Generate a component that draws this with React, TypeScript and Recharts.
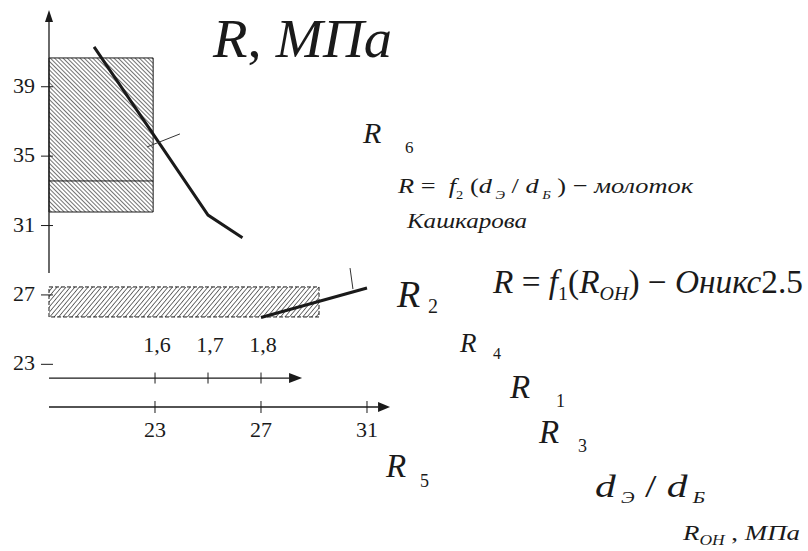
import React from 'react'
import {
  ComposedChart,
  XAxis,
  YAxis,
  Line,
  ReferenceArea,
  ReferenceLine,
  ReferenceDot,
} from 'recharts'

// both horizontal scales share the plot width: R_OH (MPa) below, dЭ/dБ above
const ronDomain: [number, number] = [17.151, 47.642]
const ratioDomain: [number, number] = [1.3075, 2.8321]
const rDomain: [number, number] = [12.24, 44]

const rTicks = [39, 35, 31, 27, 23]
const ratioTicks = [1.6, 1.7, 1.8]
const ronTicks = [23, 27, 31]

// R = f2(dЭ/dБ), Kashkarov hammer
const hammerCurve = [
  { ratio: 1.485, r: 41.3 },
  { ratio: 1.7, r: 31.6 },
  { ratio: 1.765, r: 30.3 },
]
// R = f1(R_OH), Onyx 2.5
const onyxCurve = [
  { ron: 27, r: 25.7 },
  { ron: 31, r: 27.4 },
]
const hammerLeader = [
  { ron: 22.7, r: 35.53 },
  { ron: 23.94, r: 36.28 },
]
const onyxLeader = [
  { ron: 30.36, r: 28.55 },
  { ron: 30.47, r: 27.34 },
]

// scatter zones
const hammerZoneRon = [19, 22.93]
const hammerZoneR = [31.78, 40.66]
const hammerZoneSplit = 33.57
const onyxZoneRon = [19, 29.19]
const onyxZoneR = [25.73, 27.46]

// axis extents
const rAxisSpan = [28.27, 43.42]
const ratioAxisSpan = [1.4, 1.8775]
const ratioAxisLevel = 22.21
const ronAxisSpan = [19, 31.87]
const ronAxisLevel = 20.54

const FONT = '"Liberation Serif", "Times New Roman", serif'
const INK = '#1a1a1a'
const serif: React.CSSProperties = { fontFamily: FONT }

type Seg = { t: string; i?: boolean; sub?: boolean }

function Rich({
  x,
  y,
  size,
  segs,
  len,
  subScale = 0.55,
  drop = 0.28,
}: {
  x: number
  y: number
  size: number
  segs: Seg[]
  len?: number
  subScale?: number
  drop?: number
}) {
  let shift = 0
  return (
    <text
      x={x}
      y={y}
      fontSize={size}
      fill={INK}
      textLength={len}
      lengthAdjust={len ? 'spacingAndGlyphs' : undefined}
      style={{ ...serif, whiteSpace: 'pre' }}
    >
      {segs.map((s, k) => {
        const target = s.sub ? size * drop : 0
        const dy = target - shift
        shift = target
        return (
          <tspan
            key={k}
            dy={dy || undefined}
            fontSize={s.sub ? size * subScale : size}
            fontStyle={s.i ? 'italic' : 'normal'}
          >
            {s.t}
          </tspan>
        )
      })}
    </text>
  )
}

const note = (
  key: string,
  x: number,
  y: number,
  draw: (cx: number, cy: number) => React.ReactNode,
  axis = 'ron'
) => (
  <ReferenceDot
    key={key}
    xAxisId={axis}
    x={x}
    y={y}
    r={0}
    ifOverflow="visible"
    shape={(p: any) => <g>{draw(p.cx, p.cy)}</g>}
  />
)

const arrow = (len: number, half: number) => (p: any) => {
  const { x1, y1, x2, y2 } = p
  const a = Math.atan2(y2 - y1, x2 - x1)
  const bx = x2 - len * Math.cos(a)
  const by = y2 - len * Math.sin(a)
  const nx = -Math.sin(a) * half
  const ny = Math.cos(a) * half
  return (
    <g>
      <line x1={x1} y1={y1} x2={bx} y2={by} stroke={INK} strokeWidth={1.3} />
      <polygon points={`${x2},${y2} ${bx + nx},${by + ny} ${bx - nx},${by - ny}`} fill={INK} />
    </g>
  )
}

const rLabel = (key: string, ron: number, r: number, n: string, size: number, sx: number, sy: number, ss: number) =>
  note(key, ron, r, (x, y) => (
    <g fill={INK}>
      <text x={x} y={y} fontSize={size} fontStyle="italic" style={serif}>R</text>
      <text x={x + sx} y={y + sy} fontSize={ss} style={serif}>{n}</text>
    </g>
  ))

export default function App() {
  return (
    <div style={{ position: 'absolute', left: 0, top: 0, background: '#fff' }}>
      <ComposedChart width={808} height={551} margin={{ top: 0, right: 0, bottom: 0, left: 0 }}>
        <defs>
          <pattern id="hatchBack" width="3" height="3" patternUnits="userSpaceOnUse" patternTransform="rotate(-45)">
            <rect width="3" height="3" fill="#fff" />
            <line x1="0" y1="0" x2="0" y2="3" stroke="#444" strokeWidth="1.5" />
          </pattern>
          <pattern id="hatchFwd" width="3.4" height="3.4" patternUnits="userSpaceOnUse" patternTransform="rotate(40)">
            <rect width="3.4" height="3.4" fill="#fff" />
            <line x1="0" y1="0" x2="0" y2="3.4" stroke="#444" strokeWidth="1.5" />
          </pattern>
        </defs>
        <XAxis xAxisId="ron" dataKey="ron" type="number" domain={ronDomain} allowDataOverflow hide />
        <XAxis xAxisId="ratio" dataKey="ratio" type="number" domain={ratioDomain} allowDataOverflow hide />
        <YAxis type="number" domain={rDomain} allowDataOverflow hide />

        <ReferenceArea
          xAxisId="ron"
          x1={hammerZoneRon[0]}
          x2={hammerZoneRon[1]}
          y1={hammerZoneR[0]}
          y2={hammerZoneR[1]}
          fill="url(#hatchBack)"
          fillOpacity={1}
          stroke={INK}
          strokeWidth={1}
        />
        <ReferenceLine
          xAxisId="ron"
          segment={[
            { x: hammerZoneRon[0], y: hammerZoneSplit },
            { x: hammerZoneRon[1], y: hammerZoneSplit },
          ]}
          stroke={INK}
          strokeWidth={1}
        />
        <ReferenceArea
          xAxisId="ron"
          x1={onyxZoneRon[0]}
          x2={onyxZoneRon[1]}
          y1={onyxZoneR[0]}
          y2={onyxZoneR[1]}
          fill="url(#hatchFwd)"
          fillOpacity={1}
          stroke={INK}
          strokeWidth={1}
          strokeDasharray="4 2"
        />

        {/* axes */}
        <ReferenceLine
          xAxisId="ron"
          segment={[
            { x: 19, y: rAxisSpan[0] },
            { x: 19, y: rAxisSpan[1] },
          ]}
          shape={arrow(12, 4)}
        />
        <ReferenceLine
          xAxisId="ratio"
          segment={[
            { x: ratioAxisSpan[0], y: ratioAxisLevel },
            { x: ratioAxisSpan[1], y: ratioAxisLevel },
          ]}
          shape={arrow(13, 5)}
        />
        <ReferenceLine
          xAxisId="ron"
          segment={[
            { x: ronAxisSpan[0], y: ronAxisLevel },
            { x: ronAxisSpan[1], y: ronAxisLevel },
          ]}
          shape={arrow(12, 5)}
        />

        {rTicks.map((v) =>
          note(`rt${v}`, 19, v, (x, y) => (
            <g>
              <line x1={x - 8} y1={y} x2={x + 4} y2={y} stroke={INK} strokeWidth={1} />
              <text x={x - 14} y={y + 6} textAnchor="end" fontSize={22} fill={INK} style={serif}>
                {v}
              </text>
            </g>
          ))
        )}
        {ratioTicks.map((v) =>
          note(
            `dt${v}`,
            v,
            ratioAxisLevel,
            (x, y) => (
              <g>
                <line x1={x} y1={y - 5.5} x2={x} y2={y + 5.5} stroke={INK} strokeWidth={1} />
                <text x={x + 2} y={y - 26} textAnchor="middle" fontSize={22} fill={INK} style={serif}>
                  {v.toFixed(1).replace('.', ',')}
                </text>
              </g>
            ),
            'ratio'
          )
        )}
        {ronTicks.map((v) =>
          note(`ot${v}`, v, ronAxisLevel, (x, y) => (
            <g>
              <line x1={x} y1={y - 6} x2={x} y2={y + 6} stroke={INK} strokeWidth={1} />
              <text x={x} y={y + 30} textAnchor="middle" fontSize={22} fill={INK} style={serif}>
                {v}
              </text>
            </g>
          ))
        )}

        <Line
          xAxisId="ratio"
          data={hammerCurve}
          dataKey="r"
          type="linear"
          stroke={INK}
          strokeWidth={3}
          dot={false}
          isAnimationActive={false}
        />
        <Line
          xAxisId="ron"
          data={onyxCurve}
          dataKey="r"
          type="linear"
          stroke={INK}
          strokeWidth={3}
          dot={false}
          isAnimationActive={false}
        />
        <Line
          xAxisId="ron"
          data={hammerLeader}
          dataKey="r"
          type="linear"
          stroke="#333"
          strokeWidth={1}
          dot={false}
          isAnimationActive={false}
        />
        <Line
          xAxisId="ron"
          data={onyxLeader}
          dataKey="r"
          type="linear"
          stroke="#333"
          strokeWidth={1}
          dot={false}
          isAnimationActive={false}
        />

        {note('title', 25.19, 40.715, (x, y) => (
          <Rich x={x} y={y} size={54} len={179} segs={[{ t: 'R', i: true }, { t: ', ' }, { t: 'МПа', i: true }]} />
        ))}
        {rLabel('r6', 30.849, 35.758, '6', 30, 42, 10, 17)}
        {rLabel('r2', 32.132, 26.305, '2', 38, 31, 6, 20)}
        {rLabel('r4', 34.509, 23.712, '4', 27, 33, 7, 16)}
        {rLabel('r1', 36.396, 21.061, '1', 33, 46, 9, 18)}
        {rLabel('r3', 37.491, 18.467, '3', 33, 39, 9, 18)}
        {rLabel('r5', 31.717, 16.507, '5', 33, 34, 10, 18)}

        {note('f2', 32.17, 32.876, (x, y) => (
          <Rich
            x={x}
            y={y}
            size={22}
            len={295}
            segs={[
              { t: 'R', i: true },
              { t: ' =  ' },
              { t: 'f', i: true },
              { t: '2', sub: true },
              { t: ' (' },
              { t: 'd', i: true },
              { t: ' Э', i: true, sub: true },
              { t: ' / ' },
              { t: 'd', i: true },
              { t: ' Б', i: true, sub: true },
              { t: ' ) − ' },
              { t: 'молоток', i: true },
            ]}
          />
        ))}
        {note('kash', 32.509, 30.859, (x, y) => (
          <Rich x={x} y={y} size={22} len={120} segs={[{ t: 'Кашкарова', i: true }]} />
        ))}
        {note('f1', 35.755, 27.112, (x, y) => (
          <Rich
            x={x}
            y={y}
            size={33}
            len={310}
            subScale={0.6}
            drop={0.22}
            segs={[
              { t: 'R', i: true },
              { t: ' = ' },
              { t: 'f', i: true },
              { t: '1', sub: true },
              { t: '(' },
              { t: 'R', i: true },
              { t: 'ОН', i: true, sub: true },
              { t: ') − ' },
              { t: 'Оникс', i: true },
              { t: '2.5' },
            ]}
          />
        ))}
        {note('ratio', 39.604, 15.354, (x, y) => (
          <Rich
            x={x}
            y={y}
            size={32}
            len={110}
            subScale={0.5}
            drop={0.2}
            segs={[
              { t: 'd', i: true },
              { t: ' Э', i: true, sub: true },
              { t: ' / ' },
              { t: 'd', i: true },
              { t: ' Б', i: true, sub: true },
            ]}
          />
        ))}
        {note('ron', 42.925, 12.876, (x, y) => (
          <Rich
            x={x}
            y={y}
            size={21}
            len={117}
            subScale={0.65}
            drop={0.25}
            segs={[
              { t: 'R', i: true },
              { t: 'ОН', i: true, sub: true },
              { t: ' , ' },
              { t: 'МПа', i: true },
            ]}
          />
        ))}
      </ComposedChart>
    </div>
  )
}
